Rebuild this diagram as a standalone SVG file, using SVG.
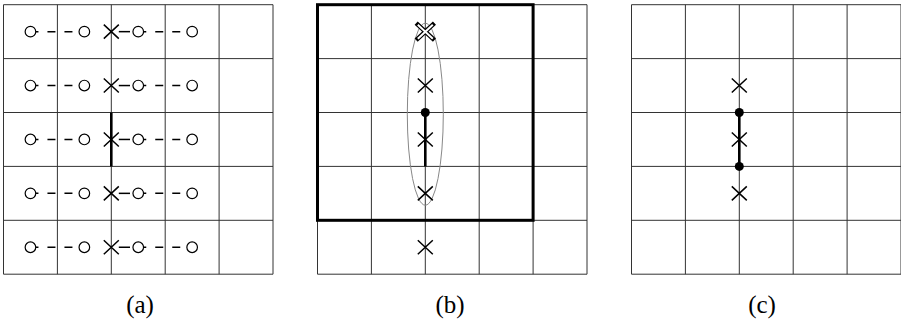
<svg xmlns="http://www.w3.org/2000/svg" width="901" height="322" viewBox="0 0 901 322">
<defs>
<style>
.grid{stroke:#333;stroke-width:1;fill:none}
.box{stroke:#000;stroke-width:3;fill:none}
.dash{stroke:#000;stroke-width:1.5;stroke-dasharray:8 9;fill:none}
.seg{stroke:#000;stroke-width:1.5;fill:none}
.thick{stroke:#000;stroke-width:2.6;fill:none}
.circ{stroke:#000;stroke-width:1.2;fill:#fff}
.dot{fill:#000}
.xm{stroke:#000;stroke-width:1.5;fill:none}
.xo{stroke:#000;stroke-width:4.5;stroke-linecap:square;fill:none}
.xi{stroke:#fff;stroke-width:2;fill:none}
.ell{stroke:#888;stroke-width:1;fill:none}
.lbl{font-size:25px;fill:#000;text-anchor:middle}
</style>
<path id="x" d="M-7.5,-7 L7.5,7 M-7.5,7 L7.5,-7"/>
<g id="gridlines">
<path class="grid" d="M0,0 H269.5 M0,53.9 H269.5 M0,107.8 H269.5 M0,161.7 H269.5 M0,215.6 H269.5 M0,269.5 H269.5 M0,0 V269.5 M53.9,0 V269.5 M107.8,0 V269.5 M161.7,0 V269.5 M215.6,0 V269.5 M269.5,0 V269.5"/>
</g>
<g id="rowa">
<line class="dash" x1="26.95" y1="0" x2="80.85" y2="0"/>
<line class="dash" x1="134.75" y1="0" x2="188.65" y2="0"/>
<line class="seg" x1="115.3" y1="0" x2="126.5" y2="0"/>
<circle class="circ" cx="26.95" cy="0" r="5.3"/>
<circle class="circ" cx="80.85" cy="0" r="5.3"/>
<circle class="circ" cx="134.75" cy="0" r="5.3"/>
<circle class="circ" cx="188.65" cy="0" r="5.3"/>
<use href="#x" class="xm" x="107.8" y="0"/>
</g>
</defs>

<g id="panel-a" transform="translate(3.5,4.7)">
<use href="#gridlines"/>
<line class="thick" x1="107.8" y1="107.8" x2="107.8" y2="161.7"/>
<g id="a-row0"><use href="#rowa" y="26.95"/></g>
<g id="a-row1"><use href="#rowa" y="80.85"/></g>
<g id="a-row2"><use href="#rowa" y="134.75"/></g>
<g id="a-row3"><use href="#rowa" y="188.65"/></g>
<g id="a-row4"><use href="#rowa" y="242.55"/></g>
</g>

<g id="panel-b" transform="translate(317.5,4.7)">
<use href="#gridlines"/>
<rect class="box" x="0" y="0" width="215.6" height="215.6"/>
<ellipse class="ell" cx="107.8" cy="109.5" rx="18" ry="91"/>
<g id="b-x0">
<use href="#x" class="xo" x="107.8" y="26.95"/>
<use href="#x" class="xi" x="107.8" y="26.95"/>
</g>
<g id="b-x1"><use href="#x" class="xm" x="107.8" y="80.85"/></g>
<g id="b-edge">
<line class="thick" x1="107.8" y1="107.8" x2="107.8" y2="161.7"/>
<circle class="dot" cx="107.8" cy="107.8" r="4.5"/>
</g>
<g id="b-x2"><use href="#x" class="xm" x="107.8" y="134.75"/></g>
<g id="b-x3"><use href="#x" class="xm" x="107.8" y="188.65"/></g>
<g id="b-x4"><use href="#x" class="xm" x="107.8" y="242.55"/></g>
</g>

<g id="panel-c" transform="translate(631.5,4.7)">
<use href="#gridlines"/>
<g id="c-edge">
<line class="thick" x1="107.8" y1="107.8" x2="107.8" y2="161.7"/>
<circle class="dot" cx="107.8" cy="107.8" r="4.5"/>
<circle class="dot" cx="107.8" cy="161.7" r="4.5"/>
</g>
<g id="c-x1"><use href="#x" class="xm" x="107.8" y="80.85"/></g>
<g id="c-x2"><use href="#x" class="xm" x="107.8" y="134.75"/></g>
<g id="c-x3"><use href="#x" class="xm" x="107.8" y="188.65"/></g>
</g>

<g id="labels" font-family="'Liberation Serif', 'Times New Roman', serif">
<text class="lbl" x="140" y="313">(a)</text>
<text class="lbl" x="450" y="313">(b)</text>
<text class="lbl" x="762" y="313">(c)</text>
</g>
</svg>
